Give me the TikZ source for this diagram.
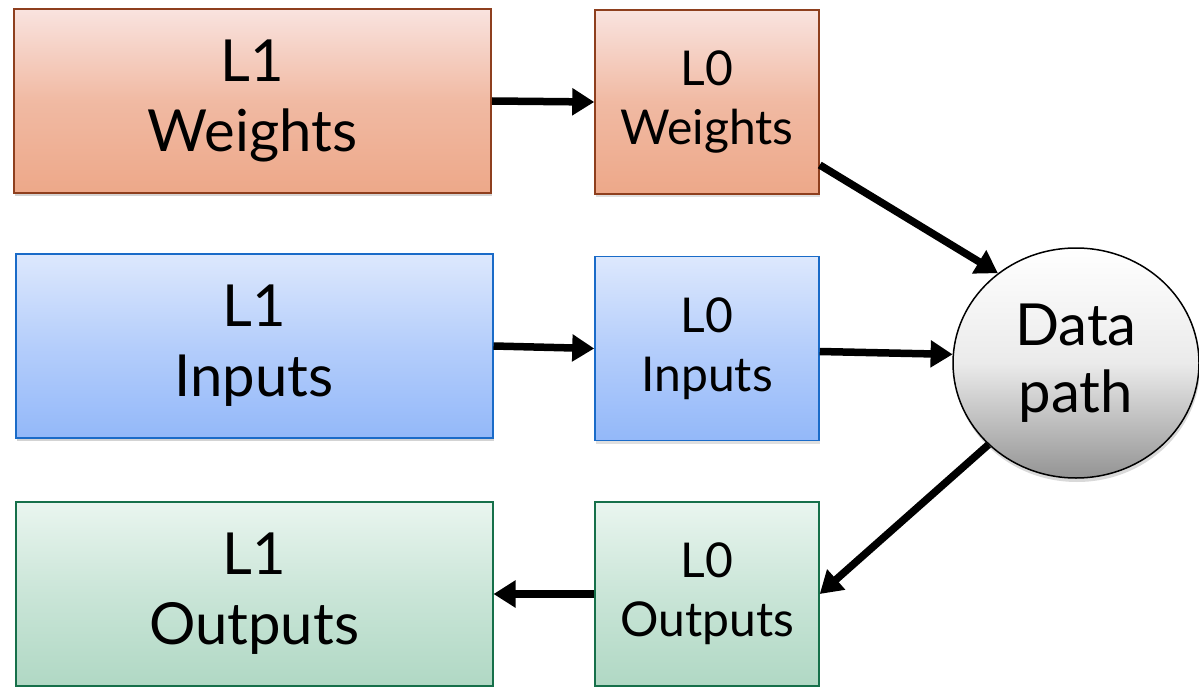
\documentclass[tikz,border=0pt]{standalone}
\usepackage{fontspec}
\setmainfont{Lato}
\usetikzlibrary{arrows.meta,shapes.geometric,shadows}
\definecolor{wTop}{HTML}{F9E3DF}
\definecolor{wBot}{HTML}{EDA889}
\definecolor{wLine}{HTML}{8E3F1E}
\definecolor{iTop}{HTML}{DDE8FD}
\definecolor{iBot}{HTML}{93B8F9}
\definecolor{iLine}{HTML}{1A6BC8}
\definecolor{oTop}{HTML}{E9F5EF}
\definecolor{oBot}{HTML}{B0D8C4}
\definecolor{oLine}{HTML}{16704A}
\tikzset{
  big/.style={draw, line width=2pt, minimum width=477pt, minimum height=184pt,
    align=center, font=\fontsize{58}{70}\selectfont, inner sep=0pt,
    drop shadow={opacity=0.35, shadow xshift=1pt, shadow yshift=-3pt}},
  small/.style={draw, line width=1.5pt, minimum width=224pt, minimum height=184pt,
    align=center, font=\fontsize{48}{59}\selectfont, inner sep=0pt,
    drop shadow={opacity=0.25, shadow xshift=1pt, shadow yshift=-3pt}},
  wcol/.style={draw=wLine, top color=wTop, bottom color=wBot, middle color=wBot!70!wTop},
  icol/.style={draw=iLine, top color=iTop, bottom color=iBot, middle color=iBot!55!iTop},
  ocol/.style={draw=oLine, top color=oTop, bottom color=oBot, middle color=oBot!55!oTop},
  dpath/.style={ellipse, draw=black, line width=1.5pt, minimum width=246pt, minimum height=230pt,
    inner sep=0pt, top color=white, bottom color=black!42, middle color=black!8,
    align=center, font=\fontsize{58}{67}\selectfont,
    drop shadow={opacity=0.3, shadow xshift=1pt, shadow yshift=-4pt}},
  conn/.style={line width=7.5pt, -{Triangle[length=22pt,width=26pt]}}
}
\begin{document}
\begin{tikzpicture}[x=1pt,y=-1pt]
\useasboundingbox (0,0) rectangle (1199,687);
\node[big,wcol] (L1W) at (252.5,101) {L1\\Weights};
\node[small,wcol] (L0W) at (707,102) {L0\\Weights};
\node[big,icol] (L1I) at (254,346) {L1\\Inputs};
\node[small,icol] (L0I) at (707,348.5) {L0\\Inputs};
\node[big,ocol] (L1O) at (254,594) {L1\\Outputs};
\node[small,ocol] (L0O) at (707,594) {L0\\Outputs};
\node[dpath] (DP) at (1076,363) {Data\\path};
\draw[conn] (L1W.east) -- (L0W.west);
\draw[conn] ([yshift=-63pt]L0W.east) -- (DP.131);
\draw[conn] (L1I.east) -- (L0I.west);
\draw[conn] ([yshift=-3pt]L0I.east) -- (DP.176);
\draw[conn] (DP.223) -- (L0O.east);
\draw[conn] (L0O.west) -- (L1O.east);
\end{tikzpicture}
\end{document}
